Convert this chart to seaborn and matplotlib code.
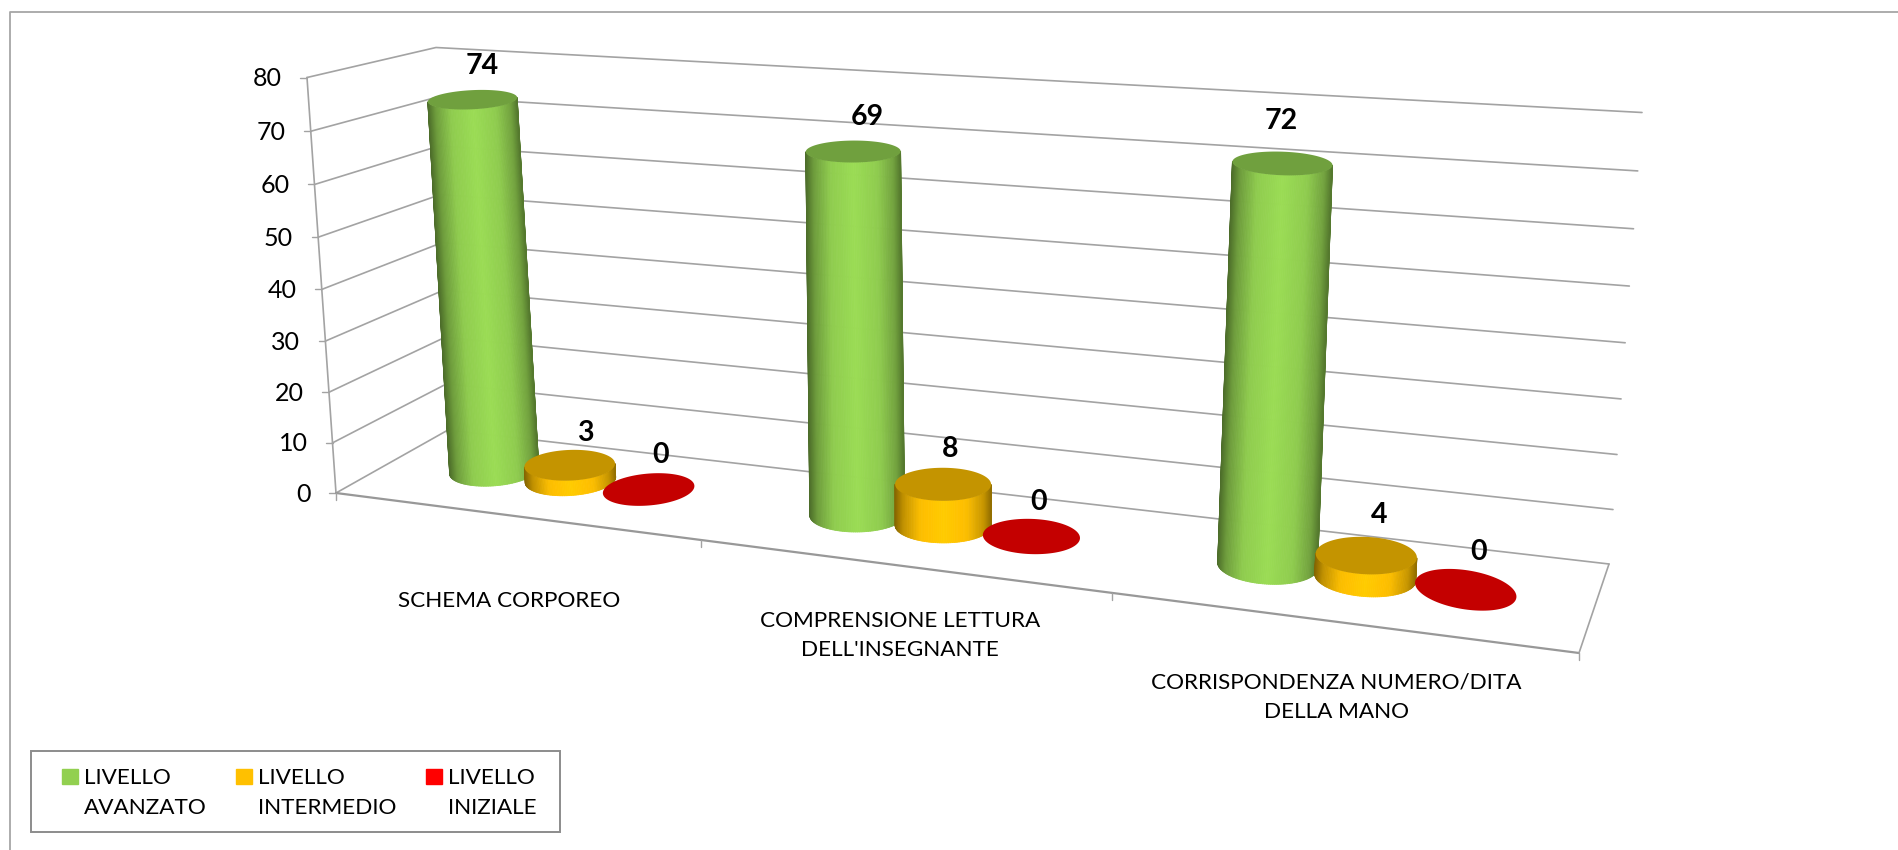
import matplotlib
matplotlib.use("Agg")
import matplotlib.pyplot as plt
from matplotlib.collections import PolyCollection
from matplotlib.patches import Patch, Rectangle
import numpy as np
import pandas as pd
import seaborn as sns

# values
categories = ["SCHEMA CORPOREO", "COMPRENSIONE LETTURA\nDELL'INSEGNANTE", "CORRISPONDENZA NUMERO/DITA\nDELLA MANO"]
levels = ["LIVELLO\nAVANZATO", "LIVELLO\nINTERMEDIO", "LIVELLO\nINIZIALE"]
avanzato = [74, 69, 72]
intermedio = [3, 8, 4]
iniziale = [0, 0, 0]
y_ticks = [0, 10, 20, 30, 40, 50, 60, 70, 80]
colors = ["#92d050", "#ffc000", "#ff0000"]

W, H = 1898, 850
FONT = "Lato"
GRID = "#a3a3a3"

# box of the fake 3d chart, in pixels
FL0, FR0, BL0, BR0 = map(np.array, [(336, 493), (1579, 653), (448, 430), (1609, 564)])
FL1, FR1, BL1, BR1 = map(np.array, [(307, 77.5), (1621, 163), (436, 47.5), (1642, 112.5)])

# nudges of the value labels from the top of each cylinder, left to right
value_dx = [10, 16, 12, 14, 7, 7, -1, 13, 13]
value_dy = [-34, -32, -35, -35, -35, -35, -42, -41, -38]
label_dx = [-4, 0, -1]
label_dy = [85, 70, 75]


def proj(x, depth, v):
    # category position, depth 0-1 and value -> pixel on the picture
    u = (x + 0.5) / len(categories)
    f = u / (u + 1.205 * (1 - u))
    t = v / y_ticks[-1]
    s = t + 0.04 * t * (t - 1)
    low = (1 - depth) * (FL0 + f * (FR0 - FL0)) + depth * (BL0 + f * (BR0 - BL0))
    high = (1 - depth) * (FL1 + f * (FR1 - FL1)) + depth * (BL1 + f * (BR1 - BL1))
    return low + (high - low) * s


def ellipse_pts(cx, cy, rx, ry, tilt, a):
    tr = np.radians(tilt)
    ex, ey = rx * np.cos(a), ry * np.sin(a)
    return cx + ex * np.cos(tr) - ey * np.sin(tr), cy + ex * np.sin(tr) + ey * np.cos(tr)


def shade(col, k):
    return tuple(np.clip(np.array(col) * k, 0, 1))


def base_point(x, v):
    # cylinders lean a little less than the walls
    u = (x + 0.5) / len(categories)
    px, py = proj(x, 0.5, v)
    rest = 1 - v / y_ticks[-1]
    return px + (8 - 4 * u) * rest, py - 2.5 * rest


def cylinder(ov, x, v, col, dx, dy):
    u = (x + 0.5) / len(categories)
    rx = 44 + 8 * u
    bx, by = base_point(x, 0)
    tx, ty = base_point(x, v)
    ry_b = rx * (0.18 + 0.00034 * by)
    ry_t = rx * (0.18 + 0.00034 * ty)
    tilt = -10 + 21 * u
    if v > 0:
        tilt_b, tilt_t = tilt * 0.6, tilt * 0.35
        th = np.linspace(np.pi, 0, 81)
        x0, y0 = ellipse_pts(bx, by, rx, ry_b, tilt_b, th)
        x1, y1 = ellipse_pts(tx, ty, rx, ry_t, tilt_t, th)
        quads, cols = [], []
        for i in range(80):
            quads.append([(x0[i], y0[i]), (x0[i + 1], y0[i + 1]), (x1[i + 1], y1[i + 1]), (x1[i], y1[i])])
            pos = (1 - np.cos(th[i])) / 2
            k = np.interp(pos, [0, 0.08, 0.25, 0.5, 0.75, 0.92, 1], [0.58, 0.78, 0.98, 1.06, 0.98, 0.75, 0.52])
            cols.append(shade(col, k))
        ov.add_collection(PolyCollection(quads, facecolors=cols, edgecolors=cols, linewidths=0.6, zorder=3))
    else:
        tilt_t = tilt
    a = np.linspace(0, 2 * np.pi, 120)
    cx, cy = ellipse_pts(tx, ty, rx, ry_t, tilt_t, a)
    ov.fill(cx, cy, color=shade(col, 0.77), lw=0, zorder=3)
    ov.text(tx + dx, ty + dy, str(int(v)), ha="center", va="center", fontsize=20.5,
            fontweight="bold", family=FONT, color="black", zorder=4)


sns.set_theme(style="white")
plt.rcParams["font.family"] = [FONT, "DejaVu Sans"]
palette = sns.color_palette(colors)

df = pd.DataFrame({
    "categoria": categories * 3,
    "livello": np.repeat(levels, 3),
    "valore": avanzato + intermedio + iniziale,
})

fig = plt.figure(figsize=(W / 100, H / 100), dpi=100)

# seaborn works out where each bar goes and how tall, the cylinders are built from its patches
bar_ax = fig.add_axes([0, 0, 1, 1])
sns.barplot(data=df, x="categoria", y="valore", hue="livello", palette=palette, saturation=1,
            width=0.66, gap=0, legend=False, ax=bar_ax)
bar_ax.set_ylim(y_ticks[0], y_ticks[-1])
bars = [(p.get_x() + p.get_width() / 2, p.get_height(), p.get_facecolor()[:3]) for p in bar_ax.patches]
bar_ax.set_visible(False)

ov = fig.add_axes([0, 0, 1, 1])
ov.set_xlim(0, W)
ov.set_ylim(H, 0)
ov.axis("off")

# outer frame
ov.plot([10, 10, W], [H, 12, 12], color="#a6a6a6", lw=1.3, zorder=1)

# walls and floor
n = len(categories)
for v in y_ticks:
    a, b, c = proj(-0.5, 0, v), proj(-0.5, 1, v), proj(n - 0.5, 1, v)
    ov.plot([a[0], b[0], c[0]], [a[1], b[1], c[1]], color=GRID, lw=1.2, zorder=1)
    ov.plot([a[0] - 6.5, a[0]], [a[1], a[1]], color=GRID, lw=1, zorder=1)
    ov.text(a[0] - 25, a[1] + 1, str(v), ha="right", va="center", fontsize=18, color="black")

a, b, c = proj(-0.5, 0, 0), proj(n - 0.5, 0, 0), proj(n - 0.5, 1, 0)
top = proj(-0.5, 0, y_ticks[-1])
ov.plot([top[0], a[0]], [top[1], a[1]], color=GRID, lw=1.2, zorder=1)
ov.plot([a[0], b[0]], [a[1], b[1]], color="#989898", lw=1.6, zorder=1)
ov.plot([b[0], c[0]], [b[1], c[1]], color=GRID, lw=1.2, zorder=1)
for i in range(n + 1):
    p = proj(i - 0.5, 0, 0)
    ov.plot([p[0], p[0]], [p[1], p[1] + 7], color=GRID, lw=1, zorder=1)

# category labels
for i, name in enumerate(categories):
    p = proj(i, 0, 0)
    ov.text(p[0] + label_dx[i], p[1] + label_dy[i], name, ha="center", va="center", fontsize=16.2,
            linespacing=1.58, color="black")

# cylinders, left to right so the later ones sit in front
for (x, v, col), dx, dy in zip(sorted(bars, key=lambda b: b[0]), value_dx, value_dy):
    cylinder(ov, x, v, col, dx, dy)

# legend box is drawn apart since the padding is not even on both sides
ov.add_patch(Rectangle((31, 751), 529, 81, fc="white", ec="#8c8c8c", lw=1.4, zorder=2))
handles = [Patch(color=c, label=l) for c, l in zip(palette, levels)]
leg = ov.legend(handles=handles, ncol=3, loc="lower left", bbox_to_anchor=(62 / W, 1 - 818 / H),
                bbox_transform=fig.transFigure, borderaxespad=0, fontsize=16.2, frameon=False,
                handlelength=0.69, handleheight=0.65, handletextpad=0.27, columnspacing=1.33, borderpad=0)
for t in leg.get_texts():
    t.set_linespacing(1.62)
    t.set_color("black")
for h in leg.legend_handles:
    h.set_y(h.get_y() + 11.7)

fig.savefig("out.png", dpi=100)
